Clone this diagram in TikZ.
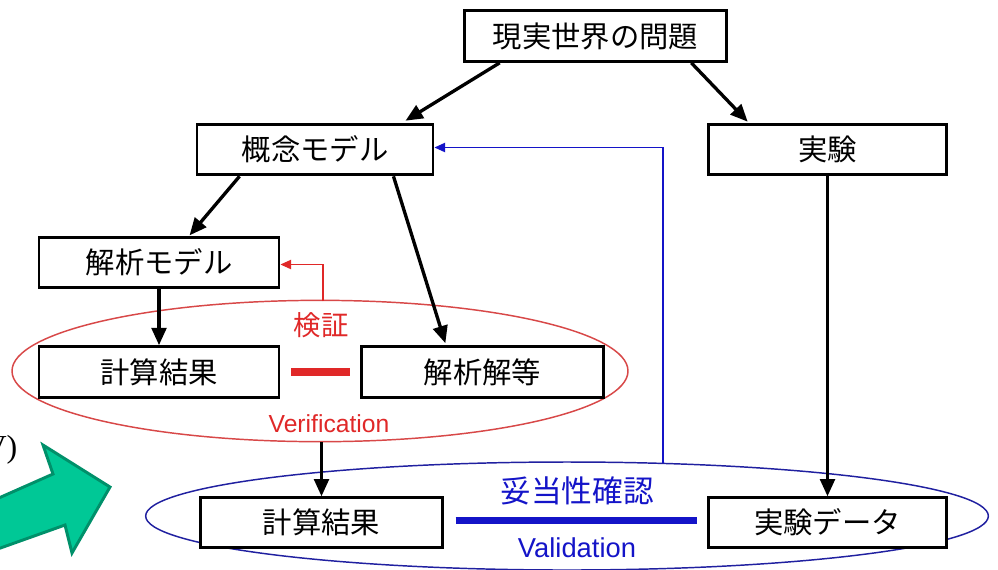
\documentclass[tikz,border=0pt]{standalone}
\usepackage{fontspec}
\setmainfont{Liberation Sans}
\newfontfamily\jp{Noto Sans CJK JP}
\newfontfamily\serifx{Liberation Serif}
\usetikzlibrary{shapes.geometric,arrows.meta,calc}
\definecolor{redc}{HTML}{E02828}
\definecolor{redell}{HTML}{D84848}
\definecolor{bluec}{HTML}{1414C8}
\definecolor{blueell}{HTML}{2020A0}
\definecolor{greenf}{HTML}{00C896}
\definecolor{greend}{HTML}{00906A}
\tikzset{
  box/.style={draw=black, line width=2.2pt, fill=white, inner sep=0pt, font=\jp\fontsize{22}{25}\selectfont},
  arr/.style={draw=black, line width=2.5pt, -{Triangle[length=13pt,width=11pt]}},
  fbred/.style={draw=redc, line width=0.9pt, -{Triangle[length=8pt,width=7pt,fill=redc]}},
  fbblue/.style={draw=bluec, line width=0.9pt, -{Triangle[length=8pt,width=7pt,fill=bluec]}},
  ell/.style={ellipse, draw, line width=1.1pt, inner sep=0pt},
}
\begin{document}
\begin{tikzpicture}[x=0.75pt,y=-0.75pt]
\useasboundingbox (0,0) rectangle (998,569);
\clip (0,0) rectangle (998,569);
\fill[white] (0,0) rectangle (998,569);

% ellipses
\node[ell, draw=redell, minimum width=462pt, minimum height=106pt] (rel) at (320,371) {};
\node[ell, draw=blueell, minimum width=632pt, minimum height=81pt] (bel) at (567,516) {};

% boxes
\node[box, minimum width=197pt, minimum height=38pt] (top) at (595.5,36) {現実世界の問題};
\node[box, minimum width=177pt, minimum height=38pt] (cm) at (315,149.5) {概念モデル};
\node[box, minimum width=179pt, minimum height=38pt] (ex) at (827.5,149.5) {実験};
\node[box, minimum width=180pt, minimum height=37pt] (am) at (159,262.5) {解析モデル};
\node[box, minimum width=180pt, minimum height=38pt] (rc) at (159,372) {計算結果};
\node[box, minimum width=181pt, minimum height=38pt] (ka) at (482.5,372) {解析解等};
\node[box, minimum width=181pt, minimum height=37pt] (bc) at (321.5,522.5) {計算結果};
\node[box, minimum width=179pt, minimum height=37pt] (ed) at (827.5,522.5) {実験データ};

% labels
\node[text=redc, font=\jp\fontsize{20.5}{24}\selectfont] (lkensho) at (321,325) {検証};
\node[text=redc, font=\fontsize{18.5}{22}\selectfont] (lver) at (329,424) {Verification};
\node[text=bluec, font=\jp\fontsize{23}{26}\selectfont] (ldato) at (577,491) {妥当性確認};
\node[text=bluec, font=\fontsize{20.5}{24}\selectfont] (lval) at (577,548) {Validation};

% black arrows
\draw[arr] ($(top.south west)+(37,0)$) -- ($(cm.north east)+(-29,-2)$);
\draw[arr] ($(top.south east)+(-37,0)$) -- ($(ex.north west)+(41,-1)$);
\draw[arr] ($(cm.south west)+(44,0)$) -- ($(am.north west)+(152,-1)$);
\draw[arr] ($(cm.south east)+(-41,0)$) -- ($(ka.north west)+(85,-2)$);
\draw[arr] (ex.south) -- (ed.north);
\draw[arr] (am.south) -- (rc.north);
\draw[arr] (bc.north |- rel.south) -- (bc.north);

% bars
\draw[draw=redc, line width=6pt] ($(rc.east)+(11,0)$) -- ($(ka.west)+(-10,0)$);
\draw[draw=bluec, line width=5pt] ($(bc.east)+(12,-2)$) -- ($(ed.west)+(-10,-2)$);

% feedback arrows
\coordinate (rtop) at (323,301);
\draw[fbred] (rtop) |- ($(am.east)+(0,2)$);
\coordinate (btop) at (663,463);
\draw[fbblue] (btop) |- ($(cm.east)+(0,-2)$);

% green arrow
\draw[fill=greenf, draw=greend, line width=2.2pt, line join=miter]
  (-8,501) -- (53,474) -- (43,445) -- (110,487) -- (72,553) -- (65,525) -- (-8,551) -- cycle;

% partial text at left edge
\node[anchor=east, font=\serifx\fontsize{24}{28}\selectfont] (frag) at (22,450) {V)};
\end{tikzpicture}
\end{document}
